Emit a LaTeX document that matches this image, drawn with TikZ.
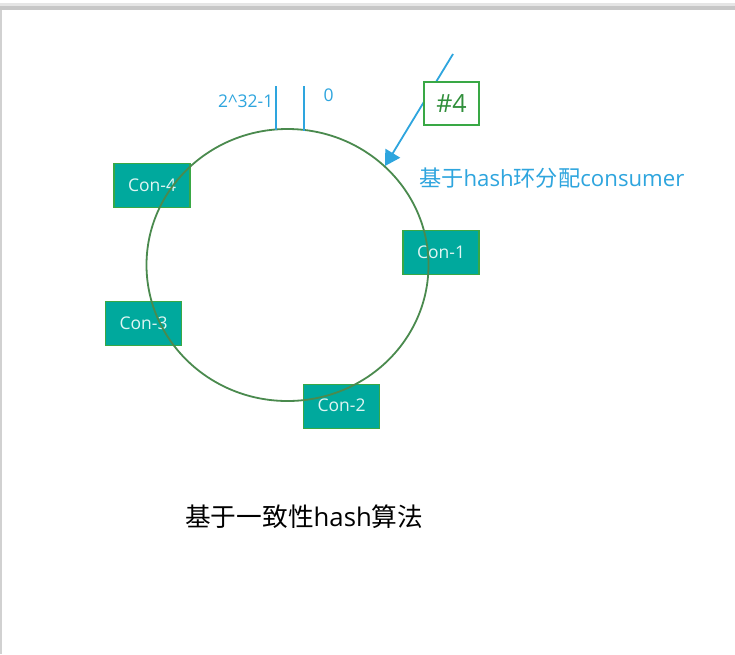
\documentclass[tikz,border=0pt]{standalone}
\usepackage{fontspec}
\setmainfont{Open Sans}
\newfontfamily\cjkfont{Noto Sans CJK SC}
\usetikzlibrary{arrows.meta,shapes.geometric}
\definecolor{teal1}{HTML}{00A99D}
\definecolor{edge1}{HTML}{39A845}
\definecolor{ring1}{HTML}{4A8A4E}
\definecolor{blue1}{HTML}{2EA5DE}
\tikzset{
  con/.style={draw=edge1,fill=teal1,line width=1.8pt,minimum width=76pt,minimum height=44pt,inner sep=0pt,text=white!88!teal1,font=\fontsize{17.5}{17.5}\selectfont},
  ringline/.style={draw=ring1,line width=1.8pt,ellipse,minimum width=282pt,minimum height=272pt,inner sep=0pt},
  tickline/.style={color=blue1,line width=2pt},
  bluetext/.style={text=blue1,inner sep=0pt},
}
\begin{document}
\begin{tikzpicture}[x=1pt,y=-1pt]
\useasboundingbox (0,0) rectangle (735,654);
\fill[white] (0,0) rectangle (735,654);
\fill[black!22] (0,6) rectangle (735,9.5);
\fill[black!10] (0,3) rectangle (735,6);
\fill[black!18] (0,9.5) rectangle (2,654);
% consumers
\node[con] (c4) at (152,185.5) {Con-4};
\node[con] (c1) at (441,252.5) {Con-1};
\node[con] (c3) at (143.5,323.5) {Con-3};
\node[con] (c2) at (341.5,406.5) {\raisebox{2pt}{Con-2}};
% ring
\node[ringline] (ring) at (287.5,265) {};
% ticks
\coordinate (t1) at (275.5,86);
\coordinate (t1e) at (275.5,130);
\coordinate (t2) at (303.5,86);
\coordinate (t2e) at (303.5,131);
\draw[tickline] (t1) -- (t1e);
\draw[tickline] (t2) -- (t2e);
\node[bluetext,font=\fontsize{17.5}{17.5}\selectfont,anchor=east] (l1) at (273.5,101) {2\char`\^32-1};
\node[bluetext,font=\fontsize{17.5}{17.5}\selectfont] (l0) at (328.5,95) {0};
% arrow
\coordinate (as) at (453,54);
\coordinate (ae) at (385,166);
\draw[draw=blue1,line width=1.8pt,-{Triangle[length=15pt,width=17pt]}] (as) -- (ae);
\node[draw=edge1,fill=white,line width=1.5pt,minimum width=55pt,minimum height=43pt,inner sep=0pt,text=edge1!85!black,font=\fontsize{25}{25}\selectfont] (h4) at (451.5,103.5) {\#4};
% labels
\node[bluetext,anchor=west,font=\fontsize{22.2}{22.2}\selectfont] (t) at (419,178) {{\cjkfont 基于}hash{\cjkfont 环分配}consumer};
\node[inner sep=0pt,anchor=west,text=black,font=\fontsize{25.7}{25.7}\selectfont] (b) at (185,517) {{\cjkfont 基于一致性}hash{\cjkfont 算法}};
\end{tikzpicture}
\end{document}
